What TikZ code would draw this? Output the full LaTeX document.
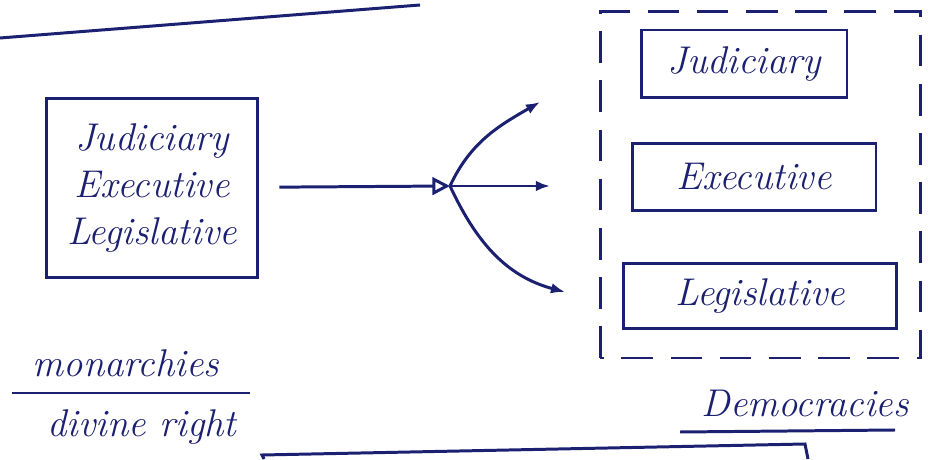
\documentclass[tikz,border=0pt]{standalone}
\usetikzlibrary{arrows.meta}
\definecolor{ink}{RGB}{28,32,112}
\tikzset{
  hand/.style={text=ink, font=\fontsize{22}{27}\selectfont\itshape},
  organ/.style={hand, draw=ink, line width=1.7pt, inner sep=0pt},
  pen/.style={draw=ink, line width=1.7pt},
}
\begin{document}
\begin{tikzpicture}[x=0.02cm, y=0.02cm]
	\useasboundingbox (0,0) rectangle (928,459);
	% underline of the cut-off heading
	\draw[pen] (0,421) -- (420,454);
	% all three powers in one box
	\node[organ, minimum width=4.24cm, minimum height=3.6cm, align=center] (lbox) at (152,271) {Judiciary\\Executive\\Legislative};
	% splitting arrows
	\coordinate (j) at (450,273);
	\coordinate (tjud) at (540,357);
	\coordinate (texe) at (550,273);
	\coordinate (tleg) at (565,167);
	\draw[pen, -{Triangle[open, length=10pt, width=10pt]}, shorten <=0.4cm] (lbox) -- (j);
	\draw[pen, -{Latex[length=8pt]}] (j) to[out=65, in=210] (tjud);
	\draw[pen, -{Latex[length=8pt]}] (j) -- (texe);
	\draw[pen, -{Latex[length=8pt]}] (j) to[out=-65, in=165] (tleg);
	% separated powers
	\draw[pen, dash pattern=on 18pt off 10pt] (600,101) rectangle (920,447);
	\node[organ, minimum width=4.12cm, minimum height=1.36cm] (jud) at (744,395) {Judiciary};
	\node[organ, minimum width=4.88cm, minimum height=1.34cm] (exe) at (754,282) {Executive};
	\node[organ, minimum width=5.46cm, minimum height=1.3cm] (leg) at (760,163) {Legislative};
	% monarchies
	\node[hand] (mon) at (126,96) {monarchies};
	\draw[pen] (12,66) -- (250,66);
	\node[hand] (div) at (142,32) {divine right};
	% democracies
	\node[hand] (dem) at (805,56) {Democracies};
	\draw[pen] (680,27) -- (895,29);
	% box cut off at the bottom
	\draw[pen] (264,0) -- (262,4) -- (805,15) -- (808,0);
\end{tikzpicture}
\end{document}
